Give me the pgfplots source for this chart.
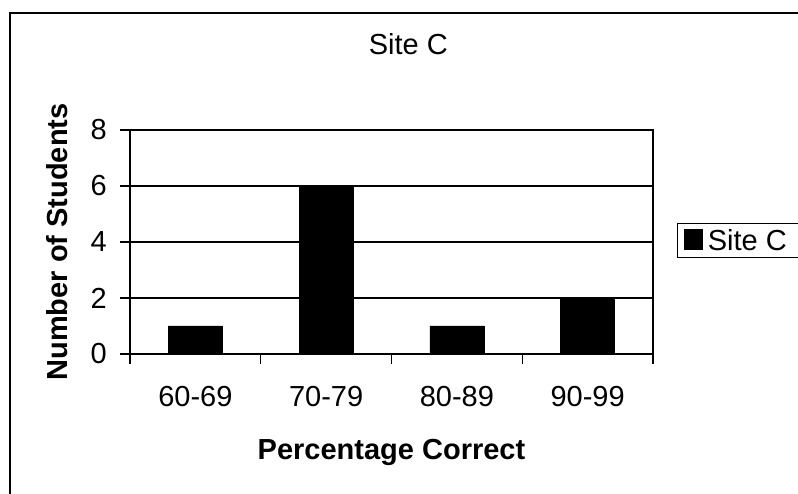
\documentclass[border=0pt]{standalone}
\usepackage{pgfplots}
\pgfplotsset{compat=1.18}
\usepackage{fontspec}
\setmainfont{Liberation Sans}

% counts per score band
\pgfplotstableread{
x n
0 1
1 6
2 1
3 2
}\sitec

\begin{document}
\begin{tikzpicture}
\useasboundingbox (-130pt,-140pt) rectangle (668pt,354pt);
\draw[line width=1.6pt] (-120pt,-170pt) rectangle (700pt,341pt);
\begin{axis}[
    scale only axis,
    width=523pt, height=224pt,
    xmin=-0.5, xmax=3.5,
    ymin=0, ymax=8,
    ytick={0,2,4,6,8},
    xtick={0,1,2,3},
    xticklabels={60-69,70-79,80-89,90-99},
    minor xtick={-0.5,0.5,1.5,2.5,3.5},
    major x tick style={draw=none},
    tick align=outside,
    xtick pos=bottom, ytick pos=left,
    major tick length=10pt, minor tick length=10pt,
    tick style={black, line width=1.2pt},
    axis line style={line width=1.6pt},
    ymajorgrids,
    grid style={black, line width=1.2pt},
    /pgf/number format/assume math mode=true,
    ticklabel style={font=\fontsize{29}{34}\selectfont},
    xticklabel style={anchor=center, yshift=-33pt},
    yticklabel style={anchor=east, inner sep=0pt, xshift=-13pt},
    title={Site C},
    title style={font=\fontsize{29}{34}\selectfont, anchor=center,
        at={(axis description cs:0.532,1)}, yshift=80pt},
    xlabel={Percentage Correct},
    xlabel style={font=\bfseries\fontsize{29}{34}\selectfont, anchor=center,
        at={(axis description cs:0.5,-0.44)}},
    ylabel={Number of Students},
    ylabel style={font=\bfseries\fontsize{29}{34}\selectfont, anchor=center,
        at={(axis description cs:-0.1396,0.5)}},
    legend style={at={(axis description cs:1.046,0.507)}, anchor=west,
        draw=black, line width=1.2pt, inner xsep=6pt, inner ysep=4pt,
        font=\fontsize{29}{34}\selectfont},
    legend image code/.code={\fill[black] (2pt,-9pt) rectangle (20pt,11pt);},
]
\addplot[ybar, bar width=0.413, fill=black, draw=black] table[x=x, y=n]{\sitec};
\addlegendentry{\makebox[130pt][l]{\hspace{3pt}Site C}}
\end{axis}
\end{tikzpicture}
\end{document}
